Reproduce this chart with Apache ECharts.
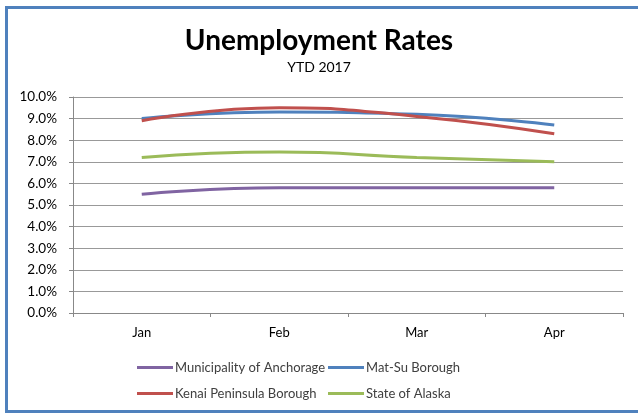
<!DOCTYPE html>
<html><head><meta charset="utf-8">
<script src="https://cdn.jsdelivr.net/npm/echarts@6/dist/echarts.min.js"></script>
<style>html,body{margin:0;padding:0;background:#fff;overflow:hidden}#c{width:638px;height:415px}</style>
</head><body><div id="c"></div>
<script>
const categories = ['Jan', 'Feb', 'Mar', 'Apr'];
const anchorage = [5.5, 5.8, 5.8, 5.8];
const matsu = [9.0, 9.3, 9.2, 8.7];
const kenai = [8.9, 9.5, 9.1, 8.3];
const alaska = [7.2, 7.45, 7.2, 7.0];
const yTicks = [0, 1, 2, 3, 4, 5, 6, 7, 8, 9, 10];

const chart = echarts.init(document.getElementById('c'));
const font = 'Lato, "Open Sans", sans-serif';
function mk(name, data, color) {
  return {name, type: 'line', data, smooth: 0.5, symbol: 'none',
    lineStyle: {width: 3, color}, itemStyle: {color}};
}
const legendBase = {
  orient: 'vertical', top: 361, padding: 0, itemWidth: 36, itemHeight: 3, itemGap: 13,
  icon: 'rect',
  textStyle: {fontFamily: font, fontSize: 13, color: '#404040', padding: [0, 0, 0, -3]}
};
const border = {stroke: '#4f81bd', lineWidth: 3};
chart.setOption({
  animation: false,
  graphic: [
    {type: 'line', shape: {x1: 5, y1: 7.5, x2: 660, y2: 7.5}, style: border},
    {type: 'line', shape: {x1: 6.5, y1: 6, x2: 6.5, y2: 413}, style: border},
    {type: 'line', shape: {x1: 5, y1: 411.5, x2: 660, y2: 411.5}, style: border}
  ],
  title: {text: 'Unemployment Rates', subtext: 'YTD 2017', left: 'center', top: 22, itemGap: 5,
    textStyle: {fontFamily: font, fontSize: 28, fontWeight: 'bold', color: '#000'},
    subtextStyle: {fontFamily: font, fontSize: 14, color: '#000'}},
  grid: {left: 73, right: 15, top: 97, bottom: 102, containLabel: false},
  legend: [
    Object.assign({left: 137, data: ['Municipality of Anchorage', 'Kenai Peninsula Borough']}, legendBase),
    Object.assign({left: 328, data: ['Mat-Su Borough', 'State of Alaska']}, legendBase)
  ],
  xAxis: {type: 'category', data: categories, boundaryGap: true,
    axisLine: {lineStyle: {color: '#888', width: 1}},
    axisTick: {show: true, length: 4, lineStyle: {color: '#888'}},
    axisLabel: {fontFamily: font, fontSize: 13, color: '#000', margin: 13}},
  yAxis: {type: 'value', min: 0, max: 10, interval: 1,
    axisLine: {show: true, lineStyle: {color: '#888'}},
    axisTick: {show: true, length: 4, lineStyle: {color: '#888'}},
    splitLine: {lineStyle: {color: '#999', width: 1}},
    axisLabel: {fontFamily: font, fontSize: 13.5, color: '#000', margin: 16,
      formatter: v => yTicks.includes(v) ? v.toFixed(1) + '%' : ''}},
  series: [
    mk('Municipality of Anchorage', anchorage, '#8064a2'),
    mk('Mat-Su Borough', matsu, '#4f81bd'),
    mk('Kenai Peninsula Borough', kenai, '#c0504d'),
    mk('State of Alaska', alaska, '#9bbb59')
  ]
});
</script></body></html>
